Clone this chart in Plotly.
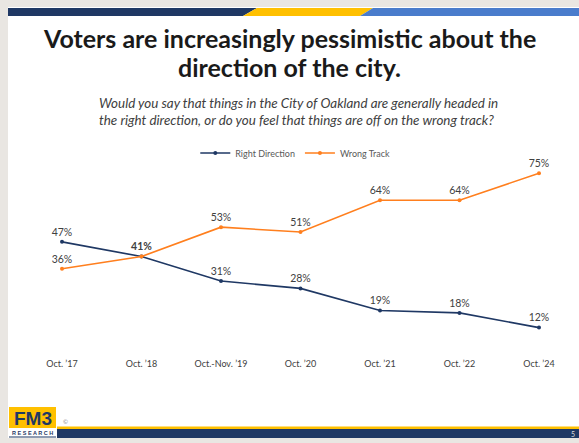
import plotly.graph_objects as go

# survey waves
waves = ["Oct. ’17", "Oct. ’18", "Oct.-Nov. ’19", "Oct. ’20", "Oct. ’21", "Oct. ’22", "Oct. ’24"]
right_direction = [47, 41, 31, 28, 19, 18, 12]
wrong_track = [36, 41, 53, 51, 64, 64, 75]

W, H = 579, 443
NAVY = "#1f3864"
ORANGE = "#ff7f1e"
YELLOW = "#ffc000"
BLUE = "#4a7ccc"
FRAME = "#e9e6e2"


def px(x):
    return x / W


def py(y):
    return 1 - y / H


rd_text = [f"{v}%" for v in right_direction]
rd_text[1] = "<b>41%</b>"
wt_text = [f"{v}%" for v in wrong_track]
wt_text[1] = ""

fig = go.Figure()

fig.add_trace(go.Scatter(
    x=waves, y=right_direction, name="Right Direction",
    mode="lines+markers+text", text=rd_text, textposition="top center",
    textfont=dict(size=10.5, color="#404040"), cliponaxis=False,
    line=dict(color=NAVY, width=1.6), marker=dict(size=4, color=NAVY),
))
fig.add_trace(go.Scatter(
    x=waves, y=wrong_track, name="Wrong Track",
    mode="lines+markers+text", text=wt_text, textposition="top center",
    textfont=dict(size=10.5, color="#404040"), cliponaxis=False,
    line=dict(color=ORANGE, width=1.6), marker=dict(size=4, color=ORANGE),
))

P = dict(xref="paper", yref="paper")
shapes = [
    # slide frame
    dict(type="rect", x0=0, x1=px(8), y0=0, y1=1, fillcolor=FRAME, line_width=0, layer="below", **P),
    dict(type="rect", x0=0, x1=1, y0=py(7), y1=1, fillcolor=FRAME, line_width=0, layer="below", **P),
    dict(type="rect", x0=0, x1=1, y0=0, y1=py(438), fillcolor=FRAME, line_width=0, layer="below", **P),
    # top band
    dict(type="path", path=f"M {px(8)},{py(8)} L {px(257)},{py(8)} L {px(243)},{py(16)} L {px(8)},{py(16)} Z",
         fillcolor=NAVY, line_width=0, **P),
    dict(type="path", path=f"M {px(257)},{py(8)} L {px(373)},{py(8)} L {px(360)},{py(16)} L {px(243)},{py(16)} Z",
         fillcolor=YELLOW, line_width=0, **P),
    dict(type="path", path=f"M {px(373)},{py(8)} L {px(579)},{py(8)} L {px(579)},{py(16)} L {px(360)},{py(16)} Z",
         fillcolor=BLUE, line_width=0, **P),
    # bottom bar
    dict(type="rect", x0=px(57), x1=1, y0=py(429), y1=py(426.5), fillcolor=YELLOW, line_width=0, **P),
    dict(type="rect", x0=px(57), x1=1, y0=py(438), y1=py(429), fillcolor=NAVY, line_width=0, **P),
    # logo
    dict(type="rect", x0=px(9), x1=px(56), y0=py(428), y1=py(407), fillcolor=YELLOW, line_width=0, **P),
    dict(type="line", x0=px(9), x1=px(56), y0=py(437), y1=py(437), line=dict(color=NAVY, width=1), **P),
]

annotations = [
    dict(text="<b>Voters are increasingly pessimistic about the</b>",
         x=0.5, xanchor="center", y=py(38), yanchor="middle", showarrow=False,
         font=dict(size=25, color="#1a1a1a", family="Lato"), **P),
    dict(text="<b>direction of the city.</b>",
         x=0.5, xanchor="center", y=py(67), yanchor="middle", showarrow=False,
         font=dict(size=25, color="#1a1a1a", family="Lato"), **P),
    dict(text="<i>Would you say that things in the City of Oakland are generally headed in<br>"
              "the right direction, or do you feel that things are off on the wrong track?</i>",
         x=px(97), xanchor="left", y=py(111), yanchor="middle", showarrow=False,
         font=dict(size=13.4, color="#404040"), align="left", **P),
    dict(text="<b>FM3</b>", x=px(32.5), xanchor="center", y=py(418), yanchor="middle", showarrow=False,
         font=dict(size=19, color=NAVY, family="Arial"), **P),
    dict(text="<b>R E S E A R C H</b>", x=px(32.5), xanchor="center", y=py(432.5), yanchor="middle",
         showarrow=False, font=dict(size=5.5, color=NAVY, family="Arial"), **P),
    dict(text="©", x=px(61), xanchor="left", y=py(421), yanchor="middle", showarrow=False,
         font=dict(size=6, color="#888888"), **P),
    dict(text="5", x=px(577), xanchor="right", y=py(433.5), yanchor="middle", showarrow=False,
         font=dict(size=7, color="#dddddd"), **P),
]

fig.update_layout(
    width=W, height=H,
    margin=dict(l=0, r=0, t=0, b=0),
    paper_bgcolor="white", plot_bgcolor="white",
    font=dict(family="Lato", color="#404040"),
    showlegend=True,
    legend=dict(orientation="h", x=0.51, xanchor="center", y=py(153), yanchor="middle",
                font=dict(size=9, color="#595959"), itemwidth=30),
    xaxis=dict(domain=[px(22.25), px(578.75)], range=[-0.5, 6.5], showgrid=False,
               showline=False, zeroline=False, ticks="",
               tickfont=dict(size=9, color="#404040")),
    yaxis=dict(domain=[py(357), py(161)], range=[0, 80], visible=False),
    shapes=shapes,
    annotations=annotations,
)

fig.write_html("out.html", config={"displayModeBar": False},
               post_script="document.body.style.margin='0';")
